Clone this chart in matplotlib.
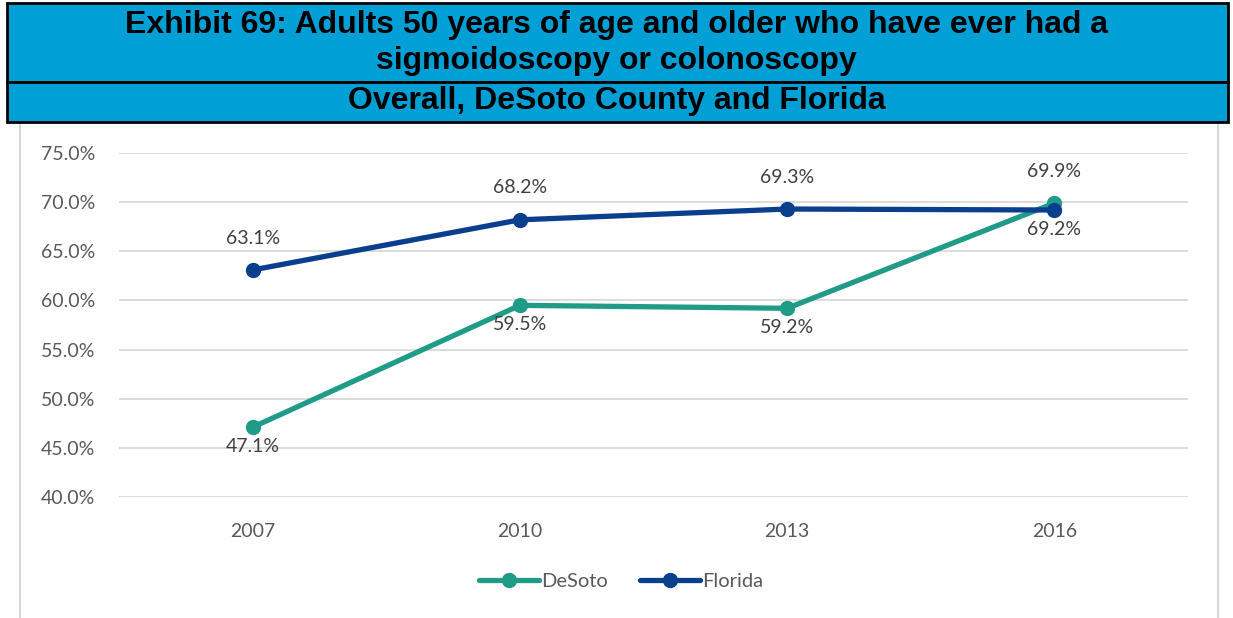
import matplotlib
matplotlib.use('Agg')
import matplotlib.pyplot as plt
from matplotlib.patches import Rectangle
from matplotlib.ticker import FuncFormatter

years = ['2007', '2010', '2013', '2016']
desoto = [47.1, 59.5, 59.2, 69.9]
florida = [63.1, 68.2, 69.3, 69.2]
# label placement per point: +1 above, -1 below
desoto_side = [-1, -1, -1, 1]
florida_side = [1, 1, 1, -1]

teal = '#1F9B88'
navy = '#0A3F8E'
banner = '#009FD6'
txt = '#595959'

plt.rcParams['font.family'] = ['Lato', 'DejaVu Sans']

W, H = 1233, 618
fig = plt.figure(figsize=(W / 100, H / 100), dpi=100)


def fx(px):
    return px / W


def fy(py):
    return 1 - py / H


# outer chart border
fig.patches.append(Rectangle((fx(20), fy(640)), fx(1218) - fx(20), fy(110) - fy(640),
                             transform=fig.transFigure, facecolor='none',
                             edgecolor='#D9D9D9', lw=1.5, zorder=0.5))

# title banner
fig.patches.append(Rectangle((fx(7), fy(82)), fx(1228) - fx(7), fy(3) - fy(82),
                             transform=fig.transFigure, facecolor=banner,
                             edgecolor='black', lw=2, zorder=2))
fig.patches.append(Rectangle((fx(7), fy(122)), fx(1228) - fx(7), fy(82) - fy(122),
                             transform=fig.transFigure, facecolor=banner,
                             edgecolor='black', lw=2, zorder=2))
title_font = ['Liberation Sans', 'DejaVu Sans']
title_lines = [('Exhibit 69: Adults 50 years of age and older who have ever had a', 25),
               ('sigmoidoscopy or colonoscopy', 61),
               ('Overall, DeSoto County and Florida', 101)]
for line, ypx in title_lines:
    fig.text(0.5, fy(ypx), line, ha='center', va='center', fontsize=23,
             fontweight='bold', family=title_font, zorder=3)

ax = fig.add_axes([fx(119), fy(497), fx(1188) - fx(119), fy(153) - fy(497)])
ax.set_zorder(1)
ax.patch.set_visible(False)
x = list(range(len(years)))

ax.plot(x, desoto, color=teal, lw=3.8, marker='o', ms=10, label='DeSoto',
        solid_capstyle='round', zorder=3)
ax.plot(x, florida, color=navy, lw=3.8, marker='o', ms=10, label='Florida',
        solid_capstyle='round', zorder=4)

for vals, sides in ((desoto, desoto_side), (florida, florida_side)):
    for i, (v, s) in enumerate(zip(vals, sides)):
        off = 23 if s > 0 else -14
        ax.annotate(f'{v:.1f}%', (i, v), xytext=(0, off), textcoords='offset points',
                    ha='center', va='center', fontsize=14, color='#404040')

ax.set_xlim(-0.5, len(years) - 0.5)
ax.set_ylim(40, 75)
ax.set_yticks([40, 45, 50, 55, 60, 65, 70, 75])
ax.yaxis.set_major_formatter(FuncFormatter(lambda v, p: f'{v:.1f}%'))
ax.set_xticks(x)
ax.set_xticklabels(years)
ax.tick_params(axis='both', length=0, labelsize=14, labelcolor=txt)
ax.tick_params(axis='y', pad=17)
ax.tick_params(axis='x', pad=19)
ax.grid(axis='y', color='#D9D9D9', lw=1.3)
ax.set_axisbelow(True)
for s in ax.spines.values():
    s.set_visible(False)

fig.legend(loc='center', bbox_to_anchor=(fx(621), fy(581)), ncol=2, frameon=False,
           fontsize=14.5, labelcolor=txt, handlelength=3.0, handletextpad=0.1,
           columnspacing=1.6)

fig.savefig('out.png', dpi=100)
